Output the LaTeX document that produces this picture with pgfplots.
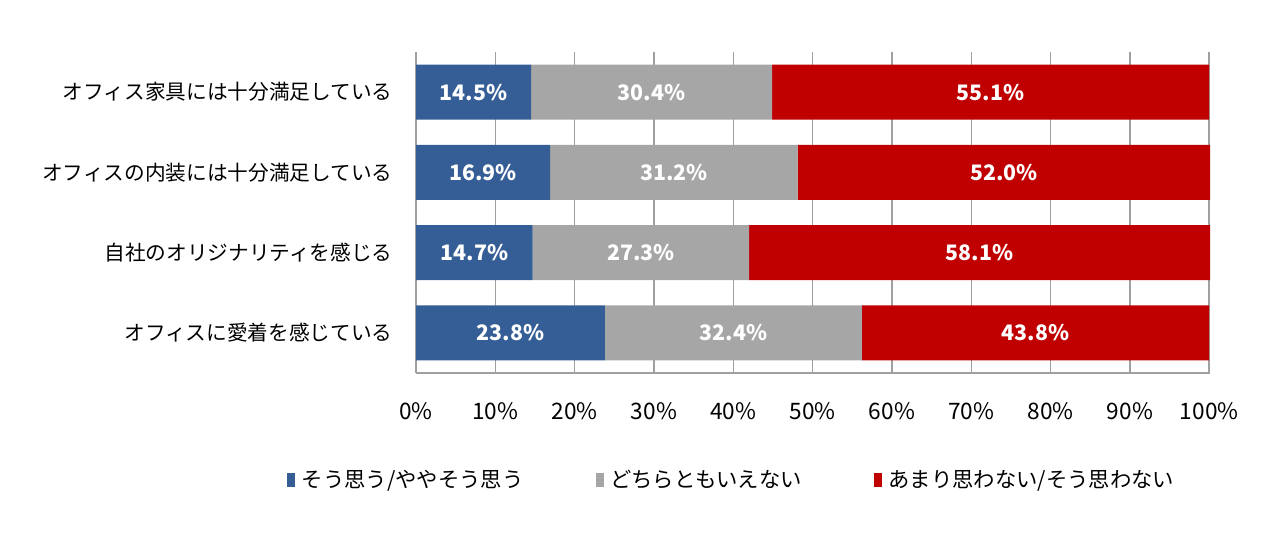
\documentclass[border=0pt]{standalone}
\usepackage{fontspec}
\setmainfont{Noto Sans CJK JP}
\usepackage{pgfplots}
\usepackage{pgfplotstable}
\pgfplotsset{compat=1.18}
\definecolor{cblue}{HTML}{355E96}
\definecolor{cgray}{HTML}{A6A6A6}
\definecolor{cred}{HTML}{C00000}
\definecolor{gridc}{HTML}{A0A0A0}

% y = row index (top to bottom), v = percent
\pgfplotstableread{
y v
0 14.5
1 16.9
2 14.7
3 23.8
}\agree
\pgfplotstableread{
y v
0 30.4
1 31.2
2 27.3
3 32.4
}\neutral
\pgfplotstableread{
y v
0 55.1
1 52.0
2 58.1
3 43.8
}\disagree

\begin{document}
\begin{tikzpicture}[x=1pt,y=1pt]
\useasboundingbox (0,0) rectangle (960,406.5);
\begin{axis}[
  at={(312pt,126.75pt)}, anchor=south west,
  scale only axis, width=595.5pt, height=240.75pt,
  xbar stacked, bar width=41.25pt,
  xmin=0, xmax=100.1, ymin=-0.5, ymax=3.5, y dir=reverse,
  ytick={0,1,2,3},
  yticklabels={オフィス家具には十分満足している,オフィスの内装には十分満足している,自社のオリジナリティを感じる,オフィスに愛着を感じている},
  xtick={0,10,...,100},
  xticklabel={\pgfmathprintnumber{\tick}\%},
  /pgf/number format/assume math mode=true,
  axis x line*=bottom, axis y line*=left,
  axis line style={-, gridc, line width=1.1pt},
  xmajorgrids, grid style={gridc, line width=1.1pt},
  major tick length=0pt,
  tick label style={font=\fontsize{17}{19}\selectfont},
  xticklabel style={yshift=-19pt},
  yticklabel style={xshift=-14pt, font=\fontsize{15.5}{18}\selectfont},
  visualization depends on={rawx \as \val},
  nodes near coords={\pgfmathprintnumber[fixed,fixed zerofill,precision=1]{\val}\%},
  every node near coord/.append style={font=\bfseries\fontsize{16}{18}\selectfont, white, anchor=center},
  legend style={at={(0.398,-0.333)}, anchor=center, draw=none, legend columns=3,
    font=\fontsize{16}{18}\selectfont,
    /tikz/every odd column/.append style={column sep=3pt},
    /tikz/every even column/.append style={column sep=52pt}},
  legend image code/.code={\fill[#1] (-3pt,-5.5pt) rectangle (3pt,5.5pt);},
]
\addplot[fill=cblue, draw=none] table[x=v, y=y] {\agree};
\addlegendentry{そう思う/ややそう思う}
\addplot[fill=cgray, draw=none] table[x=v, y=y] {\neutral};
\addlegendentry{どちらともいえない}
\addplot[fill=cred, draw=none] table[x=v, y=y] {\disagree};
\addlegendentry{あまり思わない/そう思わない}
\end{axis}
\end{tikzpicture}
\end{document}
